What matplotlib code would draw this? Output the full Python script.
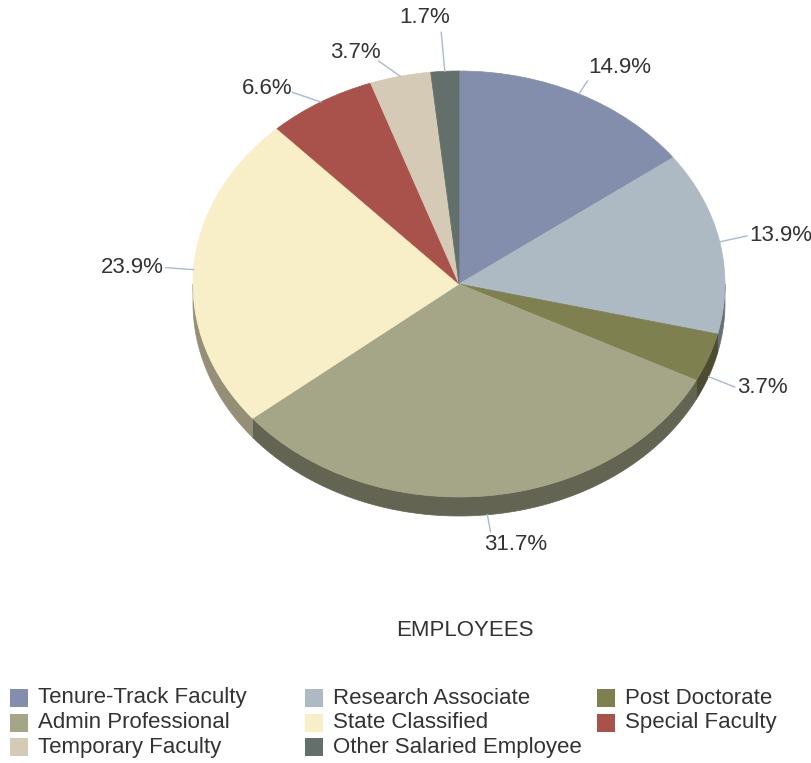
import numpy as np
import matplotlib.pyplot as plt
from matplotlib.patches import Polygon, Rectangle

plt.rcParams['font.family'] = ['Liberation Sans', 'DejaVu Sans']

# Datos
categories = ['Tenure-Track Faculty', 'Research Associate', 'Post Doctorate',
              'Admin Professional', 'State Classified', 'Special Faculty',
              'Temporary Faculty', 'Other Salaried Employee']
shares = [14.9, 13.9, 3.7, 31.7, 23.9, 6.6, 3.7, 1.7]
colors = ['#828eab', '#adbac3', '#7f8050', '#a5a687',
          '#f8eec8', '#a8524b', '#d5cab5', '#636f6a']
title = 'EMPLOYEES'

# Layout (pixels)
W, H = 812, 763
cx, cy, rx, ry, depth = 459, 284, 266, 213, 19
text_color = '#333333'
line_color = '#a9b9d3'
fs = 16
# crowded labels get pushed around a bit
label_nudge = {0: (-4, 0), 3: (-6, 0), 5: (-13, 12), 6: (-13, 5), 7: (7, -24)}
conn_nudge = {0: (-5, 14), 3: (0, -13), 5: (-13, 16), 6: (-15, 14), 7: (-2, -9)}


def to_data(x, y):
    return (x - cx) / rx, (cy - y) / ry


fig = plt.figure(figsize=(W / 100, H / 100), dpi=100)
ax = fig.add_axes([0, 0, 1, 1])

wedges, _ = ax.pie(shares, colors=colors, startangle=90, counterclock=False)
for w, c in zip(wedges, colors):
    w.set_edgecolor(c)
    w.set_linewidth(0.5)
    w.set_zorder(2)

ax.set_aspect('auto')
ax.set_xlim((0 - cx) / rx, (W - cx) / rx)
ax.set_ylim((cy - H) / ry, cy / ry)
ax.axis('off')

# Lado 3D (solo la mitad delantera)
d = depth / ry
for w, c in zip(wedges, colors):
    lo, hi = max(w.theta1, -180), min(w.theta2, 0)
    if hi <= lo:
        continue
    t = np.radians(np.linspace(lo, hi, 120))
    top = np.column_stack([np.cos(t), np.sin(t)])
    bot = np.column_stack([np.cos(t), np.sin(t) - d])
    side = np.array([int(c[i:i + 2], 16) / 255 * 0.6 for i in (1, 3, 5)])
    ax.add_patch(Polygon(np.vstack([top, bot[::-1]]), closed=True,
                         facecolor=side, edgecolor=side, linewidth=0.5, zorder=1))

# Etiquetas con lineas
for i, (w, v) in enumerate(zip(wedges, shares)):
    t = np.radians((w.theta1 + w.theta2) / 2)
    drop = depth if np.sin(t) < 0 else 0
    ax_x = cx + rx * np.cos(t)
    ax_y = cy - ry * np.sin(t) + drop
    lx = cx + (rx + 30) * np.cos(t)
    ly = cy - (ry + 30) * np.sin(t) + drop
    right = np.cos(t) >= 0
    if i in conn_nudge:
        ex, ey = lx + conn_nudge[i][0], ly + conn_nudge[i][1]
    else:
        ex, ey = (lx - 2 if right else lx + 2), ly
    ax.plot(*zip(to_data(ax_x, ax_y), to_data(ex, ey)), color=line_color,
            linewidth=1, zorder=3)
    nx, ny = label_nudge.get(i, (0, 0))
    ax.text(*to_data(lx + nx, ly + ny), f'{v:.1f}%', fontsize=fs,
            color=text_color, ha='left' if right else 'right', va='center')

# Titulo
fig.text(465 / W, 1 - 630 / H, title, ha='center', va='center',
         fontsize=fs, color=text_color)

# Leyenda
col_x = [10, 305, 597]
row_y = [698, 722.5, 747]
sq = 18
for i, (lab, c) in enumerate(zip(categories, colors)):
    x, y = col_x[i % 3], row_y[i // 3]
    fig.add_artist(Rectangle((x / W, 1 - (y + sq / 2) / H), sq / W, sq / H,
                             transform=fig.transFigure, facecolor=c,
                             edgecolor='none'))
    fig.text((x + 28) / W, 1 - y / H, lab, ha='left', va='center',
             fontsize=fs, color=text_color)

fig.savefig('out.png', dpi=100)
